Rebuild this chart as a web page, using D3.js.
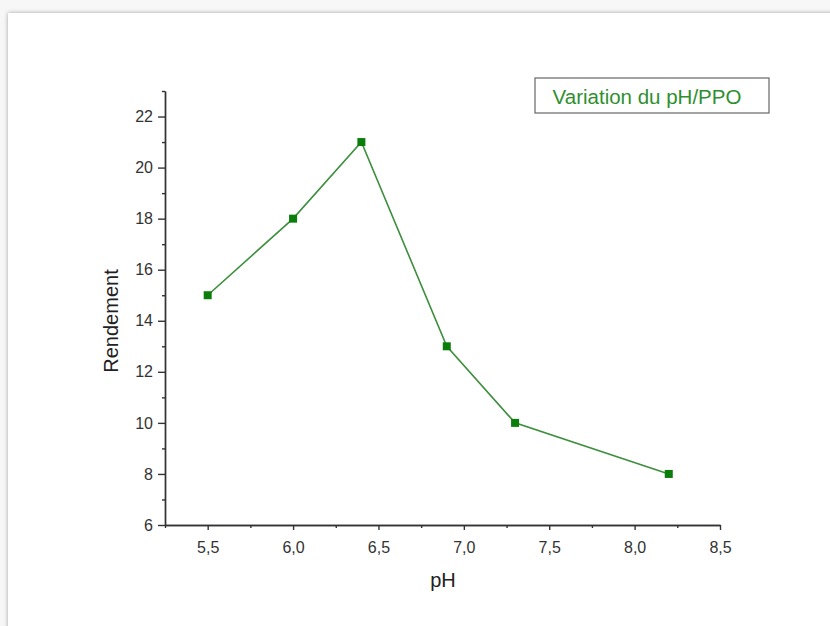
<!DOCTYPE html>
<html>
<head>
<meta charset="utf-8">
<script src="https://cdn.jsdelivr.net/npm/d3@7"></script>
<style>
  body { margin: 0; background: #f7f7f7; }
  svg { display: block; }
  .axis path, .axis line { stroke: #333; stroke-width: 1.4; }
  .title { font-family: "Liberation Sans", Arial, sans-serif; font-size: 20px; fill: #222; }
</style>
</head>
<body>
<svg width="830" height="626"></svg>
<script>
// data
const phValues = [5.5, 6.0, 6.4, 6.9, 7.3, 8.2];
const rendement = [15, 18, 21, 13, 10, 8];
const xTicks = [5.5, 6.0, 6.5, 7.0, 7.5, 8.0, 8.5];
const yTicks = [6, 8, 10, 12, 14, 16, 18, 20, 22];
const legendLabel = "Variation du pH/PPO";

const svg = d3.select("svg");

// page sheet with a soft shadow
const defs = svg.append("defs");
const f = defs.append("filter").attr("id", "shadow")
  .attr("x", "-5%").attr("y", "-5%").attr("width", "110%").attr("height", "110%");
f.append("feDropShadow")
  .attr("dx", 0).attr("dy", 0).attr("stdDeviation", 2)
  .attr("flood-color", "#000").attr("flood-opacity", 0.35);

svg.append("rect")
  .attr("x", 8).attr("y", 13)
  .attr("width", 840).attr("height", 640)
  .attr("fill", "#fff")
  .attr("filter", "url(#shadow)");

// scales
const x = d3.scaleLinear().domain([5.25, 8.5]).range([165, 720]);
const y = d3.scaleLinear().domain([6, 23]).range([525, 91]);

const fmt = d => d3.format(".1f")(d).replace(".", ",");

// minor ticks
const xMinor = d3.range(5.25, 8.5001, 0.25).filter(v => Math.abs((v * 2) % 1) > 0.01);
const yMinor = d3.range(7, 23.001, 2);

svg.append("g").attr("class", "axis")
  .attr("transform", "translate(0,525)")
  .call(d3.axisBottom(x).tickValues(xMinor).tickSize(3).tickFormat("").tickSizeOuter(0));
svg.append("g").attr("class", "axis")
  .attr("transform", "translate(165,0)")
  .call(d3.axisLeft(y).tickValues(yMinor).tickSize(3).tickFormat("").tickSizeOuter(0));

// major axes
const xAxis = svg.append("g").attr("class", "axis")
  .attr("transform", "translate(0,525)")
  .call(d3.axisBottom(x).tickValues(xTicks).tickSize(5).tickPadding(12).tickFormat(fmt).tickSizeOuter(0));
const yAxis = svg.append("g").attr("class", "axis")
  .attr("transform", "translate(165,0)")
  .call(d3.axisLeft(y).tickValues(yTicks).tickSize(7).tickPadding(5).tickFormat(d3.format("d")).tickSizeOuter(0));

[xAxis, yAxis].forEach(g => g
  .attr("font-family", "Liberation Sans, Arial, sans-serif")
  .attr("font-size", 16)
  .selectAll("text").attr("fill", "#333"));

// axis titles
svg.append("text").attr("class", "title")
  .attr("x", 443).attr("y", 587)
  .attr("text-anchor", "middle")
  .text("pH");
svg.append("text").attr("class", "title")
  .attr("transform", "translate(118,321) rotate(-90)")
  .attr("text-anchor", "middle")
  .text("Rendement");

// line and markers
const pts = phValues.map((v, i) => ({ x: v, y: rendement[i] }));
svg.append("path")
  .datum(pts)
  .attr("fill", "none")
  .attr("stroke", "#3d8f3d")
  .attr("stroke-width", 1.6)
  .attr("d", d3.line().x(d => x(d.x)).y(d => y(d.y)));

svg.selectAll("rect.pt")
  .data(pts)
  .enter().append("rect")
  .attr("class", "pt")
  .attr("x", d => x(d.x) - 4)
  .attr("y", d => y(d.y) - 4)
  .attr("width", 8).attr("height", 8)
  .attr("fill", "#0b7d0b");

// legend box
svg.append("rect")
  .attr("x", 535).attr("y", 78)
  .attr("width", 234).attr("height", 35)
  .attr("fill", "#fff")
  .attr("stroke", "#666")
  .attr("stroke-width", 1.2);
svg.append("text")
  .attr("x", 647).attr("y", 104)
  .attr("text-anchor", "middle")
  .attr("font-family", "Liberation Sans, Arial, sans-serif")
  .attr("font-size", 20.5)
  .attr("fill", "#2f8f2f")
  .text(legendLabel);
</script>
</body>
</html>
